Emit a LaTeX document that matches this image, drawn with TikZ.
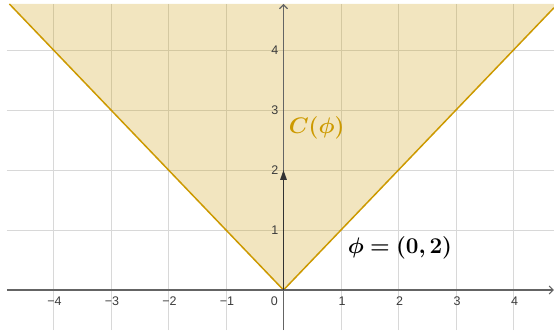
\RequirePackage{fix-cm}
\documentclass[tikz,border=0pt]{standalone}
\usepackage{amsmath,bm}
\usepackage{fontspec}
\newfontfamily\ticksfont{Liberation Sans}
\usetikzlibrary{arrows.meta}
\definecolor{gold}{RGB}{204,153,0}
\definecolor{gridc}{RGB}{216,216,216}
\definecolor{axisc}{RGB}{100,100,100}
\definecolor{tickc}{RGB}{60,60,60}
\definecolor{vecc}{RGB}{50,50,50}
\tikzset{
  gridline/.style={gridc, line width=0.9pt},
  axisline/.style={axisc, line width=1.1pt},
  conefill/.style={fill=gold, fill opacity=0.25},
  coneedge/.style={gold, line width=1.5pt, line join=miter},
  ticklab/.style={tickc, font=\ticksfont\fontsize{12.5}{14}\selectfont, inner sep=0pt},
  veclab/.style={font=\fontsize{22.5}{27}\selectfont, inner sep=0pt}
}
\begin{document}
\begin{tikzpicture}[x=57.5pt,y=60pt]
\useasboundingbox (-4.9304,-0.6667) rectangle (4.7043,4.8333);
% grid
\foreach \i in {-4,...,4} \draw[gridline] (\i,-0.6667) -- (\i,4.7667);
\foreach \j in {1,...,4} \draw[gridline] (-4.8087,\j) -- (4.7043,\j);
% cone
\coordinate (O) at (0,0);
\coordinate (TL) at (-4.7667,4.7667);
\coordinate (TR) at (4.7043,4.7043);
\coordinate (TRc) at (4.7043,4.7667);
\fill[conefill] (TL) -- (O) -- (TR) -- (TRc) -- cycle;
\draw[coneedge] (TL) -- (O) -- (TR);
% axes
\coordinate (XL) at (-4.8087,0);
\coordinate (XR) at (4.7043,0);
\coordinate (YB) at (0,-0.6667);
\coordinate (YT) at (0,4.7667);
\draw[axisline,-{Straight Barb[length=4pt,width=8pt]}] (XL) -- (XR);
\draw[axisline,-{Straight Barb[length=4pt,width=8pt]}] (YB) -- (YT);
% tick labels
\foreach \i/\t in {-4/−4,-3/−3,-2/−2,-1/−1,1/1,2/2,3/3,4/4}
  \node[ticklab] (tx\i) at ([xshift=1pt]\i,-0.1833) {\t};
\node[ticklab] (tx0) at (-0.16,-0.1833) {0};
\foreach \j in {1,...,4}
  \node[ticklab, anchor=east] (ty\j) at ([xshift=-5pt]0,\j) {\j};
% vector
\coordinate (P) at (0,2);
\draw[vecc, line width=1.5pt, -{Triangle[length=10pt,width=6.5pt]}] (O) -- (P);
% labels
\node[veclab, text=gold] (cphi) at (0.576,2.70) {$\bm{C(\phi)}$};
\node[veclab] (phi) at (2.026,0.70) {$\bm{\phi = (0,2)}$};
\end{tikzpicture}
\end{document}
